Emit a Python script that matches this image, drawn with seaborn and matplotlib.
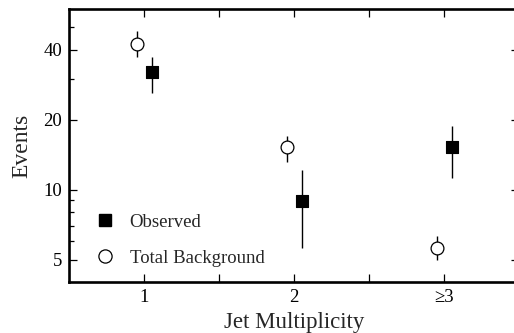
import numpy as np
import pandas as pd
import matplotlib
matplotlib.use("Agg")
import matplotlib.pyplot as plt
from matplotlib.lines import Line2D
import seaborn as sns

categories = ["1", "2", "\u22653"]
observed = [32.0, 8.9, 15.2]
observed_low = [26.1, 5.6, 11.2]
observed_high = [37.3, 12.2, 18.8]
background = [42.4, 15.2, 5.6]
background_low = [37.3, 13.2, 5.0]
background_high = [48.1, 17.1, 6.3]
y_major = [5, 10, 20, 40]
y_minor = [6, 7, 8, 9, 30, 50]

sns.set_style("ticks")
plt.rcParams["font.family"] = ["Liberation Serif", "DejaVu Serif"]
plt.rcParams["mathtext.fontset"] = "stix"

fig = plt.figure(figsize=(5.14, 3.33), dpi=100)
ax = fig.add_axes([69 / 514, 51 / 333, 450 / 514, 273 / 333])

xpos = np.arange(1, len(categories) + 1)
off = 0.05

obs = np.array(observed)
bkg = np.array(background)
df = pd.DataFrame({
    "x": np.concatenate([xpos + off, xpos - off]),
    "y": np.concatenate([obs, bkg]),
    "series": ["Observed"] * 3 + ["Total Background"] * 3,
})

ax.errorbar(xpos + off, obs, yerr=[obs - np.array(observed_low), np.array(observed_high) - obs],
            fmt="none", ecolor="black", elinewidth=1.0, capsize=0, zorder=2)
ax.errorbar(xpos - off, bkg, yerr=[bkg - np.array(background_low), np.array(background_high) - bkg],
            fmt="none", ecolor="black", elinewidth=1.0, capsize=0, zorder=2)

sns.scatterplot(data=df[df.series == "Observed"], x="x", y="y", marker="s", s=80,
                color="black", edgecolor="black", linewidth=0.8, ax=ax, zorder=3, legend=False)
sns.scatterplot(data=df[df.series == "Total Background"], x="x", y="y", marker="o", s=85,
                color="white", edgecolor="black", linewidth=0.9, ax=ax, zorder=3, legend=False)

ax.set_yscale("log")
ax.set_ylim(4.0, 60)
ax.set_xlim(0.5, 3.5)
ax.set_xticks(xpos)
ax.set_xticklabels(categories)
ax.set_xticks([1.5, 2.5], minor=True)
ax.set_yticks(y_major)
ax.set_yticklabels([str(v) for v in y_major])
ax.set_yticks(y_minor, minor=True)
ax.yaxis.set_minor_formatter(matplotlib.ticker.NullFormatter())

ax.tick_params(which="both", direction="in", top=True, right=True, labelsize=13.5,
               width=0.9, color="black", labelcolor="black", pad=5)
ax.tick_params(which="major", length=6)
ax.tick_params(which="minor", length=3.5)
ax.tick_params(axis="x", which="minor", length=6)
for sp in ax.spines.values():
    sp.set_linewidth(1.9)
    sp.set_color("black")

ax.set_xlabel("Jet Multiplicity", fontsize=16.5, labelpad=4.5)
ax.set_ylabel("Events", fontsize=17, labelpad=8)

handles = [
    Line2D([], [], linestyle="none", marker="s", markersize=9, markerfacecolor="black",
           markeredgecolor="black"),
    Line2D([], [], linestyle="none", marker="o", markersize=9.5, markerfacecolor="white",
           markeredgecolor="black", markeredgewidth=0.9),
]
ax.legend(handles, ["Observed", "Total Background"], loc="lower left",
          bbox_to_anchor=(0.060, 0.056), frameon=False, fontsize=13.5,
          handlelength=1.0, handletextpad=0.8, labelspacing=1.0, borderpad=0, borderaxespad=0)

fig.savefig("out.png", dpi=100)
